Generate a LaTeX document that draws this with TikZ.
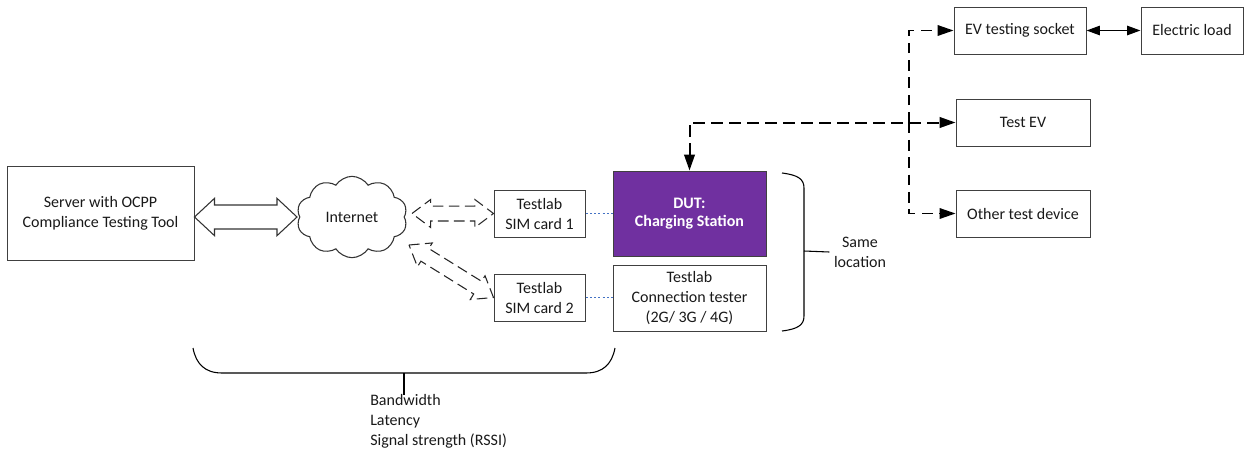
\documentclass[tikz,border=0pt]{standalone}
\usepackage{fontspec}
\setmainfont{Carlito}
\usetikzlibrary{calc,shapes.symbols,arrows.meta}
\definecolor{dutpurple}{HTML}{7030A0}
\definecolor{dotblue}{HTML}{4472C4}
\newcommand\hollowarrow[6]{%
  \draw[#1] (#2) -- ($(#2)!#4!(#3)!#6!90:(#3)$) -- ($(#2)!#4!(#3)!#5!90:(#3)$)
    -- ($(#3)!#4!(#2)!#5!-90:(#2)$) -- ($(#3)!#4!(#2)!#6!-90:(#2)$) -- (#3)
    -- ($(#3)!#4!(#2)!#6!90:(#2)$) -- ($(#3)!#4!(#2)!#5!90:(#2)$)
    -- ($(#2)!#4!(#3)!#5!-90:(#3)$) -- ($(#2)!#4!(#3)!#6!-90:(#3)$) -- cycle;}
\begin{document}
\begin{tikzpicture}[x=0.75pt,y=-0.75pt,
  every node/.style={font=\fontsize{12}{15}\selectfont, text=black!90},
  box/.style={draw=black!75, line width=0.75pt, align=center, inner sep=0pt},
  wh/.style 2 args={minimum width=#1*0.75pt, minimum height=#2*0.75pt},
  dotline/.style={draw=dotblue, line width=1pt, dash pattern=on 1.6pt off 1.6pt},
  maindash/.style={draw=black, line width=1.5pt, dash pattern=on 9pt off 4.5pt},
  branchdash/.style={draw=black, line width=1.1pt, dash pattern=on 8pt off 5pt},
  tip/.style={-{Triangle[length=12pt,width=8pt]}},
  hollowsolid/.style={draw=black!80, line width=0.8pt, line join=miter},
  hollowdash/.style={draw=black!85, line width=0.8pt, dash pattern=on 8pt off 4pt},
  brk/.style={draw=black, line width=0.8pt}]
\useasboundingbox (0,0) rectangle (1250,454);

% boxes
\node[box, wh={187}{94}] (server) at (100.5,213) {Server with OCPP\\Compliance Testing Tool};
\node[cloud, draw=black!80, line width=0.8pt, cloud puffs=10, cloud puff arc=115, aspect=1.35,
      minimum width=83pt, minimum height=61pt, inner sep=0pt] (cloud) at (352,217) {Internet};
\node[box, wh={91}{47}] (sim1) at (539.5,213.5) {Testlab\\SIM card 1};
\node[box, wh={91}{47}] (sim2) at (539.5,297.5) {Testlab\\SIM card 2};
\node[box, fill=dutpurple, wh={153}{85}, text=white, font=\fontsize{12}{14}\selectfont\bfseries] (dut) at (689.5,213.5) {DUT:\\Charging Station};
\node[box, wh={153}{66}] (tester) at (689.5,298) {Testlab\\Connection tester\\(2G/ 3G / 4G)};
\node[box, wh={132}{47}] (socket) at (1020,30.5) {EV testing socket};
\node[box, wh={102}{47}] (load) at (1192,30.5) {Electric load};
\node[box, wh={134}{47}] (testev) at (1023,122.5) {Test EV};
\node[box, wh={134}{47}] (other) at (1023,213.5) {Other test device};

% hollow arrows
\coordinate (a1) at (server.east |- cloud.center);
\coordinate (a2) at (297,217);
\hollowarrow{hollowsolid}{a1}{a2}{15pt}{9pt}{14pt}
\coordinate (c1) at (412,213.5);
\hollowarrow{hollowdash}{c1}{sim1.west}{14pt}{5.6pt}{10.5pt}
\coordinate (c2) at (409,245);
\hollowarrow{hollowdash}{c2}{sim2.west}{14pt}{5.6pt}{10.5pt}

% dotted links
\draw[dotline] (sim1.east) -- (dut.west |- sim1.east);
\draw[dotline] (sim2.east) -- (tester.west |- sim2.east);

% socket - load
\draw[line width=1.1pt, {Triangle[length=10pt,width=7pt]}-{Triangle[length=10pt,width=7pt]}] (socket.east) -- (load.west);

% dashed connectors
\draw[maindash, {Triangle[length=12pt,width=8pt]}-{Triangle[length=12pt,width=8pt]}] (dut.north) |- (testev.west);
\coordinate (j) at (909,122.5);
\draw[branchdash, tip] (j) |- (socket.west);
\draw[branchdash, tip] (j) |- (other.west);

% same-location bracket
\draw[brk] (782,173) .. controls (798,175) and (804,179) .. (804,188) -- (804,316) .. controls (804,325) and (798,329) .. (782,331);
\coordinate (sm) at (804,251);
\node[align=center] (same) at (860,252) {Same\\location};
\draw[brk] (sm) -- (same.west);

% bottom bracket
\draw[brk] (193,348) .. controls (196,364) and (205,373) .. (222,373) -- (586,373) .. controls (603,373) and (612,364) .. (615,348);
\coordinate (bt) at (404,373);
\coordinate (bb) at (404,395);
\draw[brk, line width=1.1pt] (bt) -- (bb);
\node[align=left, anchor=north west, inner sep=0pt] (metrics) at (370,394) {Bandwidth\\Latency\\Signal strength (RSSI)};
\end{tikzpicture}
\end{document}
